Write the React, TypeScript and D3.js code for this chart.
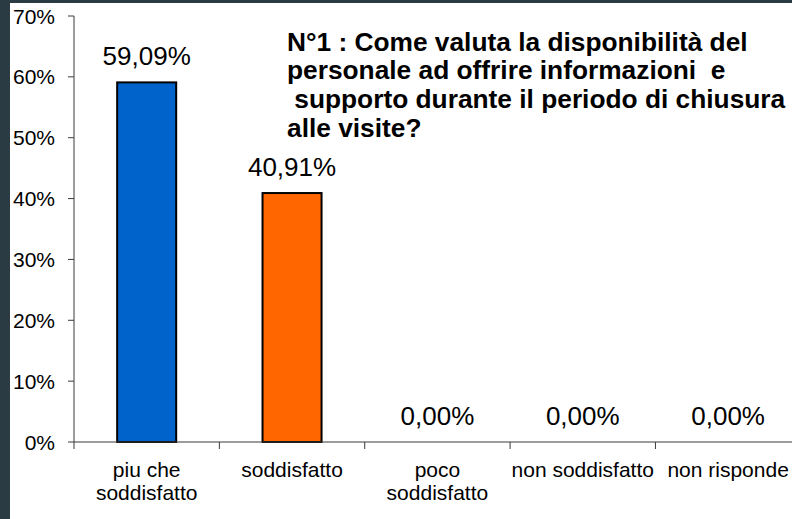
import React from "react";
import * as d3 from "d3";

const categories: string[][] = [
  ["piu che", "soddisfatto"],
  ["soddisfatto"],
  ["poco", "soddisfatto"],
  ["non soddisfatto"],
  ["non risponde"],
];
const values: number[] = [0.5909, 0.4091, 0, 0, 0];
const valueLabels: string[] = ["59,09%", "40,91%", "0,00%", "0,00%", "0,00%"];
const barColors: string[] = ["#0063CC", "#FF6600", "#999999", "#999999", "#999999"];
const yTicks: number[] = [0, 0.1, 0.2, 0.3, 0.4, 0.5, 0.6, 0.7];
const titleLines: string[] = [
  "N°1 : Come valuta la disponibilità del",
  "personale ad offrire informazioni  e",
  " supporto durante il periodo di chiusura",
  "alle visite?",
];

const W = 792;
const H = 519;
const FONT = "'Liberation Sans', Arial, sans-serif";

export default function App() {
  const x0 = 74;
  const x1 = 800.8;
  const y0 = 442;
  const y1 = 16;
  const idx = categories.map((_, i) => String(i));
  const x = d3.scaleBand<string>().domain(idx).range([x0, x1]).paddingInner(0).paddingOuter(0);
  const y = d3.scaleLinear().domain([0, 0.7]).range([y0, y1]);
  const bw = x.bandwidth() * 0.406;
  const axisColor = "#3a3a3a";

  return (
    <svg
      width={W}
      height={H}
      style={{ position: "absolute", left: 0, top: 0, display: "block" }}
      xmlns="http://www.w3.org/2000/svg"
    >
      <rect x={0} y={0} width={W} height={H} fill="#2b3b44" />
      <rect x={10} y={3} width={W - 10} height={H - 3} fill="#ffffff" />

      {/* y axis */}
      <line x1={x0} x2={x0} y1={y1} y2={y0 + 7} stroke={axisColor} strokeWidth={1} />
      {yTicks.map((t) => (
        <g key={t}>
          <line x1={x0 - 6} x2={x0} y1={y(t)} y2={y(t)} stroke={axisColor} strokeWidth={1} />
          <text
            x={55}
            y={y(t)}
            dy="0.36em"
            textAnchor="end"
            fontFamily={FONT}
            fontSize={21}
            fill="#000"
          >
            {`${Math.round(t * 100)}%`}
          </text>
        </g>
      ))}

      {/* bars */}
      {values.map((v, i) => {
        const cx = (x(String(i)) as number) + x.bandwidth() / 2;
        return (
          <g key={i}>
            {v > 0 && (
              <rect
                x={cx - bw / 2}
                y={y(v)}
                width={bw}
                height={y0 - y(v)}
                fill={barColors[i]}
                stroke="#000"
                strokeWidth={2}
              />
            )}
            <text
              x={cx}
              y={y(v) - 17}
              textAnchor="middle"
              fontFamily={FONT}
              fontSize={26}
              fill="#000"
            >
              {valueLabels[i]}
            </text>
          </g>
        );
      })}

      {/* x axis */}
      <line x1={x0} x2={x1} y1={y0} y2={y0} stroke={axisColor} strokeWidth={1} />
      {idx.map((d) => (
        <line
          key={d}
          x1={(x(d) as number) + x.bandwidth()}
          x2={(x(d) as number) + x.bandwidth()}
          y1={y0}
          y2={y0 + 7}
          stroke={axisColor}
          strokeWidth={1}
        />
      ))}
      {categories.map((lines, i) => {
        const cx = (x(String(i)) as number) + x.bandwidth() / 2;
        return (
          <text key={i} textAnchor="middle" fontFamily={FONT} fontSize={21} fill="#000">
            {lines.map((l, j) => (
              <tspan key={j} x={cx} y={477 + j * 23}>
                {l}
              </tspan>
            ))}
          </text>
        );
      })}

      {/* title */}
      <text fontFamily={FONT} fontSize={26.3} fontWeight="bold" fill="#000" style={{ whiteSpace: "pre" }}>
        {titleLines.map((l, j) => (
          <tspan key={j} x={287} y={50.7 + j * 28.7}>
            {l}
          </tspan>
        ))}
      </text>
    </svg>
  );
}
